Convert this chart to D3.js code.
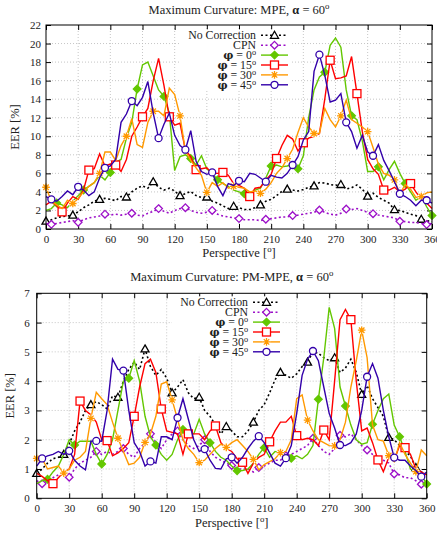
<!DOCTYPE html>
<html>
<head>
<meta charset="utf-8">
<script src="https://cdn.jsdelivr.net/npm/d3@7"></script>
<style>
body { margin: 0; background: #fff; }
text { font-family: "Liberation Serif", "DejaVu Serif", serif; fill: #222; }
</style>
</head>
<body>
<div id="chart"></div>
<script>
// perspective angle, 5 degree steps
const perspective = d3.range(0, 361, 5);
const xTicks = d3.range(0, 361, 30);

// shared by both panels
const noCorrection = [0.85,1.0,1.2,1.35,1.4,1.5,
  1.85,2.3,2.6,3.0,3.2,3.3,
  3.2,3.05,3.5,3.45,4.0,4.4,
  4.65,4.4,5.1,4.5,4.2,4.4,
  4.1,3.6,3.8,4.05,3.6,3.4,
  3.45,3.0,2.8,2.5,2.2,2.45,
  2.3,2.1,2.1,2.3,2.6,3.0,
  3.2,3.6,4.05,4.3,4.2,4.1,
  4.25,4.5,4.65,5.0,4.95,4.8,
  4.7,4.8,4.3,4.45,4.75,4.3,
  3.55,3.85,3.4,3.1,2.8,2.08,
  2.0,1.8,1.6,1.45,1.05,0.9,
  0.8];
const cpn = [0.6,0.5,0.6,0.7,0.8,0.9,
  0.72,1.0,1.2,1.3,1.4,1.6,
  1.5,1.6,1.5,1.6,1.7,1.5,
  1.4,1.7,1.9,2.2,1.9,1.7,
  2.0,2.2,2.3,2.0,1.8,1.7,
  1.8,2.0,1.6,1.4,1.3,1.2,
  1.12,1.0,1.0,1.0,0.9,1.05,
  1.1,1.2,1.3,1.3,1.45,1.5,
  1.6,1.7,1.8,2.05,1.8,1.6,
  1.5,1.7,2.15,2.1,2.2,2.0,
  1.8,1.65,1.5,1.4,1.3,1.2,
  0.83,0.8,0.7,0.7,0.6,0.48,
  0.6];

// MPE
const mpePhi0 = [2.0,2.2,2.8,2.6,2.3,3.0,
  3.6,4.2,4.6,5.0,5.8,5.3,
  6.1,7.2,7.5,9.8,11.5,15.1,
  17.7,18.0,16.5,15.0,14.3,12.5,
  6.3,7.8,8.0,7.6,6.9,7.9,
  6.5,6.0,5.3,4.9,4.6,4.2,
  4.0,3.8,3.8,4.2,4.4,5.5,
  6.8,6.9,6.7,6.8,7.0,6.5,
  7.9,12.0,15.0,16.4,16.9,19.8,
  20.6,19.6,15.0,12.2,11.8,9.5,
  6.2,6.2,6.7,5.3,6.4,7.3,
  6.0,4.9,4.0,3.1,3.5,2.4,
  1.45];
const mpePhi15 = [2.6,3.0,2.5,1.85,2.8,3.5,
  3.2,4.2,6.35,6.5,8.1,6.8,
  7.0,6.9,6.2,7.5,10.0,11.0,
  12.1,13.0,16.0,18.4,15.5,12.1,
  11.2,11.4,8.5,7.8,6.4,6.5,
  6.6,6.0,6.0,6.1,5.8,4.9,
  4.7,4.4,3.5,4.4,4.5,5.3,
  5.9,7.6,9.0,10.1,9.7,8.4,
  9.3,9.8,10.0,10.3,14.0,18.2,
  16.2,16.3,16.5,18.6,14.6,10.5,
  7.5,6.5,5.9,4.2,4.2,4.5,
  4.0,4.3,4.9,4.0,3.2,2.8,
  2.2];
const mpePhi30 = [4.5,3.0,2.6,2.2,3.1,2.75,
  3.3,4.0,4.6,5.0,6.0,8.3,
  8.3,7.4,9.0,10.0,11.9,9.1,
  8.8,11.5,12.7,12.7,12.2,15.2,
  14.5,12.2,8.4,7.4,6.6,5.8,
  3.95,5.0,4.6,5.0,4.4,4.6,
  4.5,4.4,4.0,4.1,3.85,4.3,
  5.0,6.0,6.6,7.6,8.6,10.4,
  12.0,11.0,10.3,10.3,13.0,11.8,
  11.0,12.2,13.9,11.8,11.4,11.0,
  10.5,8.8,7.0,6.0,5.8,5.3,
  3.8,4.8,4.3,3.4,3.5,3.9,
  4.0];
const mpePhi45 = [3.5,3.2,3.0,3.5,4.1,3.7,
  4.55,4.2,3.6,4.0,5.5,6.6,
  6.8,7.5,11.5,12.4,13.8,13.3,
  14.2,15.9,12.5,9.8,11.3,12.5,
  10.1,9.0,8.55,10.6,7.3,6.2,
  5.9,6.1,4.6,3.6,4.9,4.7,
  5.2,5.1,6.0,5.9,5.5,5.1,
  5.8,5.6,5.5,6.0,6.9,7.8,
  9.6,10.5,17.0,18.8,16.6,13.7,
  13.9,14.6,11.5,10.5,8.7,10.1,
  8.3,7.9,9.1,7.4,6.3,5.1,
  3.8,3.5,3.1,2.5,3.1,3.1,
  2.8];

// PM-MPE
const pmPhi0 = [0.5,0.6,0.65,0.9,1.1,1.5,
  2.0,1.82,1.95,1.95,1.95,1.5,
  1.17,1.5,2.0,3.0,4.0,4.1,
  4.7,4.0,2.8,2.1,1.82,1.5,
  1.3,1.5,2.0,2.35,2.2,2.2,
  2.7,2.2,1.9,1.6,1.4,1.3,
  1.1,0.94,0.95,1.0,1.2,1.5,
  1.73,1.4,1.6,1.55,1.45,1.37,
  1.45,1.35,1.5,1.8,3.38,4.8,
  6.52,5.8,3.8,3.15,2.5,2.0,
  1.85,1.9,2.53,3.0,3.4,3.56,
  2.5,2.1,1.6,1.0,0.9,0.8,
  0.49];
const pmPhi15 = [0.85,0.75,0.6,0.5,0.7,0.9,
  1.0,1.5,3.32,3.0,2.85,2.6,
  2.0,1.97,1.45,1.55,1.7,1.9,
  2.8,3.8,4.6,4.75,4.3,3.05,
  2.3,2.25,2.2,1.5,2.2,2.2,
  2.2,2.0,2.3,2.47,1.9,1.7,
  1.6,1.35,1.23,0.85,1.2,1.4,
  1.5,1.93,2.3,2.6,2.6,2.8,
  2.14,2.0,2.05,2.0,1.8,2.33,
  2.0,4.0,6.1,6.45,6.1,4.0,
  2.3,2.4,1.9,1.31,0.91,1.4,
  1.3,1.8,1.73,1.5,1.0,0.9,
  0.8];
const pmPhi30 = [1.36,1.35,1.0,1.05,1.1,0.86,
  1.0,1.3,1.4,1.6,2.73,3.62,
  3.4,3.2,2.6,2.05,1.6,1.15,
  1.2,1.4,1.91,2.2,2.8,3.9,
  3.98,3.36,2.7,2.0,1.7,1.5,
  1.22,1.3,1.5,1.7,1.85,1.74,
  1.9,2.0,1.8,1.6,1.33,0.97,
  1.15,1.25,1.35,1.56,1.6,2.0,
  3.4,3.53,2.67,2.3,2.0,1.9,
  1.8,1.79,2.0,2.6,3.8,4.7,
  5.74,4.8,2.5,2.0,1.95,1.46,
  1.25,1.9,1.5,1.2,0.91,1.65,
  1.45];
const pmPhi45 = [1.1,1.36,1.45,1.5,1.6,1.5,
  1.62,1.3,1.1,0.97,1.95,1.96,
  1.95,3.0,4.75,4.4,4.36,3.0,
  1.9,1.6,1.1,1.26,1.2,2.1,
  2.1,2.0,2.75,3.4,2.7,2.0,
  1.6,1.68,1.3,1.02,1.0,1.35,
  1.4,1.2,1.4,1.7,1.95,2.12,
  1.9,1.55,1.2,1.1,1.37,1.8,
  2.9,4.2,4.75,5.03,4.7,3.8,
  2.9,2.4,1.82,1.8,1.9,2.2,
  3.0,4.15,4.6,4.1,3.0,2.1,
  1.39,1.3,1.3,1.1,0.95,0.74,
  0.9];

const seriesNames = ["No Correction", "CPN", "φ = 0°", "φ = 15°", "φ = 30°", "φ = 45°"];

const styles = [
  {color: "#000000", dash: "2,2.5", marker: "triangle", offset: 0},
  {color: "#9c10c8", dash: "2,2.5", marker: "diamond", offset: 1},
  {color: "#63c700", dash: null, marker: "diamondFilled", offset: 2},
  {color: "#ff0000", dash: null, marker: "square", offset: 3},
  {color: "#ff9900", dash: null, marker: "star", offset: 0},
  {color: "#3300aa", dash: null, marker: "circle", offset: 1}
];

const panels = [
  {title: "MPE", ymax: 22, ystep: 2, left: 46, right: 432, top: 25, bottom: 229,
   series: [noCorrection, cpn, mpePhi0, mpePhi15, mpePhi30, mpePhi45],
   keyRight: 256, keyTop: 35.3, titleY: 14, xlabelY: 257, ylabelX: 19, ypad: 5},
  {title: "PM-MPE", ymax: 7, ystep: 1, left: 36.7, right: 426.7, top: 293.3, bottom: 498.3,
   series: [noCorrection, cpn, pmPhi0, pmPhi15, pmPhi30, pmPhi45],
   keyRight: 248, keyTop: 302.3, titleY: 281, xlabelY: 527, ylabelX: 14, ypad: 7}
];

const width = 437, height = 536;
const svg = d3.select("#chart").append("svg")
  .attr("width", width)
  .attr("height", height);

// text with "°" drawn as a raised small o, greek letters bold
function richText(sel, str) {
  for (const ch of str.split(/(°|α|φ)/)) {
    if (!ch) continue;
    if (ch === "°") {
      sel.append("tspan").attr("baseline-shift", "super").attr("font-size", "0.7em").text("o");
    } else if (ch === "φ") {
      sel.append("tspan").attr("font-family", "DejaVu Serif").attr("font-weight", "bold")
        .attr("font-size", "0.95em").text(ch);
    } else if (ch === "α") {
      sel.append("tspan").attr("font-weight", "bold").text(ch);
    } else {
      sel.append("tspan").text(ch);
    }
  }
}

function drawMarker(g, type, color, x, y) {
  if (type === "triangle") {
    g.append("path").attr("d", `M${x},${y-4}L${x+4},${y+3}L${x-4},${y+3}Z`)
      .attr("fill", "#fff").attr("stroke", color).attr("stroke-width", 1.3);
  } else if (type === "diamond" || type === "diamondFilled") {
    const r = 3.8;
    g.append("path").attr("d", `M${x},${y-r}L${x+r},${y}L${x},${y+r}L${x-r},${y}Z`)
      .attr("fill", type === "diamond" ? "#fff" : color)
      .attr("stroke", color).attr("stroke-width", 1.3);
  } else if (type === "square") {
    g.append("rect").attr("x", x - 4).attr("y", y - 4).attr("width", 8).attr("height", 8)
      .attr("fill", "#fff").attr("stroke", color).attr("stroke-width", 1.3);
  } else if (type === "circle") {
    g.append("circle").attr("cx", x).attr("cy", y).attr("r", 3.5)
      .attr("fill", "#fff").attr("stroke", color).attr("stroke-width", 1.3);
  } else if (type === "star") {
    const r = 3.8, d = r * 0.72;
    g.append("circle").attr("cx", x).attr("cy", y).attr("r", r).attr("fill", "#fff");
    g.append("path")
      .attr("d", `M${x-r},${y}H${x+r}M${x},${y-r}V${y+r}M${x-d},${y-d}L${x+d},${y+d}M${x-d},${y+d}L${x+d},${y-d}`)
      .attr("stroke", color).attr("stroke-width", 1.3);
  }
}

panels.forEach(function(p) {
  const x = d3.scaleLinear().domain([0, 360]).range([p.left, p.right]);
  const y = d3.scaleLinear().domain([0, p.ymax]).range([p.bottom, p.top]);
  const yTicks = d3.range(0, p.ymax + 0.001, p.ystep);
  const g = svg.append("g");

  // grid
  g.append("g").selectAll("line").data(xTicks.slice(1, -1)).enter().append("line")
    .attr("x1", d => x(d)).attr("x2", d => x(d)).attr("y1", p.top).attr("y2", p.bottom)
    .attr("stroke", "#b8b8b8").attr("stroke-width", 0.8).attr("stroke-dasharray", "1,2");
  g.append("g").selectAll("line").data(yTicks.slice(1, -1)).enter().append("line")
    .attr("y1", d => y(d)).attr("y2", d => y(d)).attr("x1", p.left).attr("x2", p.right)
    .attr("stroke", "#b8b8b8").attr("stroke-width", 0.8).attr("stroke-dasharray", "1,2");

  // axes, ticks inward and mirrored
  const axes = [
    d3.axisBottom(x).tickValues(xTicks).tickSize(-5).tickPadding(6),
    d3.axisTop(x).tickValues(xTicks).tickSize(-5).tickFormat(""),
    d3.axisLeft(y).tickValues(yTicks).tickSize(-5).tickPadding(p.ypad).tickFormat(d3.format("d")),
    d3.axisRight(y).tickValues(yTicks).tickSize(-5).tickFormat("")
  ];
  const pos = [[0, p.bottom], [0, p.top], [p.left, 0], [p.right, 0]];
  axes.forEach(function(ax, i) {
    const a = g.append("g").attr("transform", `translate(${pos[i][0]},${pos[i][1]})`).call(ax);
    a.select(".domain").remove();
    a.selectAll("line").attr("stroke", "#000");
    a.selectAll("text").filter(function() { return this.textContent === ""; }).remove();
    a.selectAll("text").attr("font-size", 11).attr("font-family", "Liberation Serif").attr("fill", "#222");
  });

  // series
  const line = d3.line().x((d, i) => x(perspective[i])).y(d => y(d));
  p.series.forEach(function(values, s) {
    const st = styles[s];
    const sg = g.append("g");
    sg.append("path").datum(values)
      .attr("d", line)
      .attr("fill", "none")
      .attr("stroke", st.color)
      .attr("stroke-width", st.dash ? 1.6 : 1.4)
      .attr("stroke-dasharray", st.dash);
    values.forEach(function(v, i) {
      if (i % 5 === st.offset) drawMarker(sg, st.marker, st.color, x(perspective[i]), y(v));
    });
  });

  // frame
  g.append("rect").attr("x", p.left).attr("y", p.top)
    .attr("width", p.right - p.left).attr("height", p.bottom - p.top)
    .attr("fill", "none").attr("stroke", "#000").attr("stroke-width", 1);

  // key
  const rowH = 9.9;
  g.append("rect").attr("x", p.keyRight - 76).attr("y", p.keyTop - 6)
    .attr("width", 110).attr("height", rowH * 6 + 1).attr("fill", "#fff");
  seriesNames.forEach(function(name, s) {
    const st = styles[s];
    const ky = p.keyTop + s * rowH;
    const t = g.append("text").attr("x", p.keyRight).attr("y", ky + 3.8)
      .attr("text-anchor", "end").attr("font-size", 11.8);
    richText(t, name);
    g.append("line").attr("x1", p.keyRight + 5).attr("x2", p.keyRight + 32)
      .attr("y1", ky).attr("y2", ky)
      .attr("stroke", st.color).attr("stroke-width", st.dash ? 1.6 : 1.4)
      .attr("stroke-dasharray", st.dash);
    drawMarker(g, st.marker, st.color, p.keyRight + 18.5, ky);
  });

  // titles
  const tt = svg.append("text").attr("x", (p.left + p.right) / 2).attr("y", p.titleY)
    .attr("text-anchor", "middle").attr("font-size", 12.5);
  richText(tt, "Maximum Curvature: " + p.title + ", α = 60°");

  const xl = svg.append("text").attr("x", (p.left + p.right) / 2).attr("y", p.xlabelY)
    .attr("text-anchor", "middle").attr("font-size", 12.5);
  richText(xl, "Perspective [°]");

  svg.append("text")
    .attr("transform", `translate(${p.ylabelX},${(p.top + p.bottom) / 2}) rotate(-90)`)
    .attr("text-anchor", "middle").attr("font-size", 12.5)
    .text("EER [%]");
});
</script>
</body>
</html>
